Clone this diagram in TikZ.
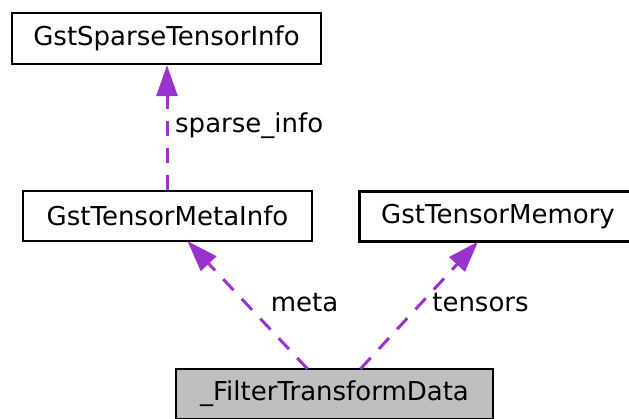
\documentclass[tikz,border=0pt]{standalone}
\usepackage{fontspec}
\setmainfont{DejaVu Sans}
\usetikzlibrary{arrows.meta}
\definecolor{edgecol}{HTML}{9A32CD}
\definecolor{boxgray}{HTML}{BFBFBF}
\begin{document}
\begin{tikzpicture}[x=1pt,y=-1pt,
  box/.style={draw=black,line width=2.3pt,rectangle,inner sep=0pt,font=\fontsize{26}{31}\selectfont},
  rel/.style={draw=edgecol,line width=3pt,dash pattern=on 15pt off 12pt,
    -{Triangle[length=31pt,width=21pt,fill=edgecol]}},
  lab/.style={font=\fontsize{26}{31}\selectfont,inner sep=0pt}]
\useasboundingbox (0,0) rectangle (629,418);
\begin{scope}
\clip (0,0) rectangle (629,418);
\node[box,minimum width=309pt,minimum height=51pt] (A) at (166.5,38.5) {GstSparseTensorInfo};
\node[box,minimum width=289pt,minimum height=50pt] (B) at (167.5,216) {GstTensorMetaInfo};
\node[box,minimum width=277pt,minimum height=50pt] (C) at (498,216.5) {GstTensorMemory};
\node[box,fill=boxgray,minimum width=317pt,minimum height=50pt] (D) at (334.5,394) {\_FilterTransformData};
\end{scope}
\draw[rel] (B.north -| 167,0) -- (A.south -| 167,0);
\draw[rel] ([xshift=-27pt,yshift=-1pt]D.north) -- ([xshift=20pt,yshift=1pt]B.south);
\draw[rel] ([xshift=26pt,yshift=-1pt]D.north) -- ([xshift=-20pt,yshift=1pt]C.south);
\node[lab,anchor=west] (l1) at (175,126) {sparse\_info};
\node[lab] (l2) at (304.5,303) {meta};
\node[lab] (l3) at (480.5,303) {tensors};
\end{tikzpicture}
\end{document}
